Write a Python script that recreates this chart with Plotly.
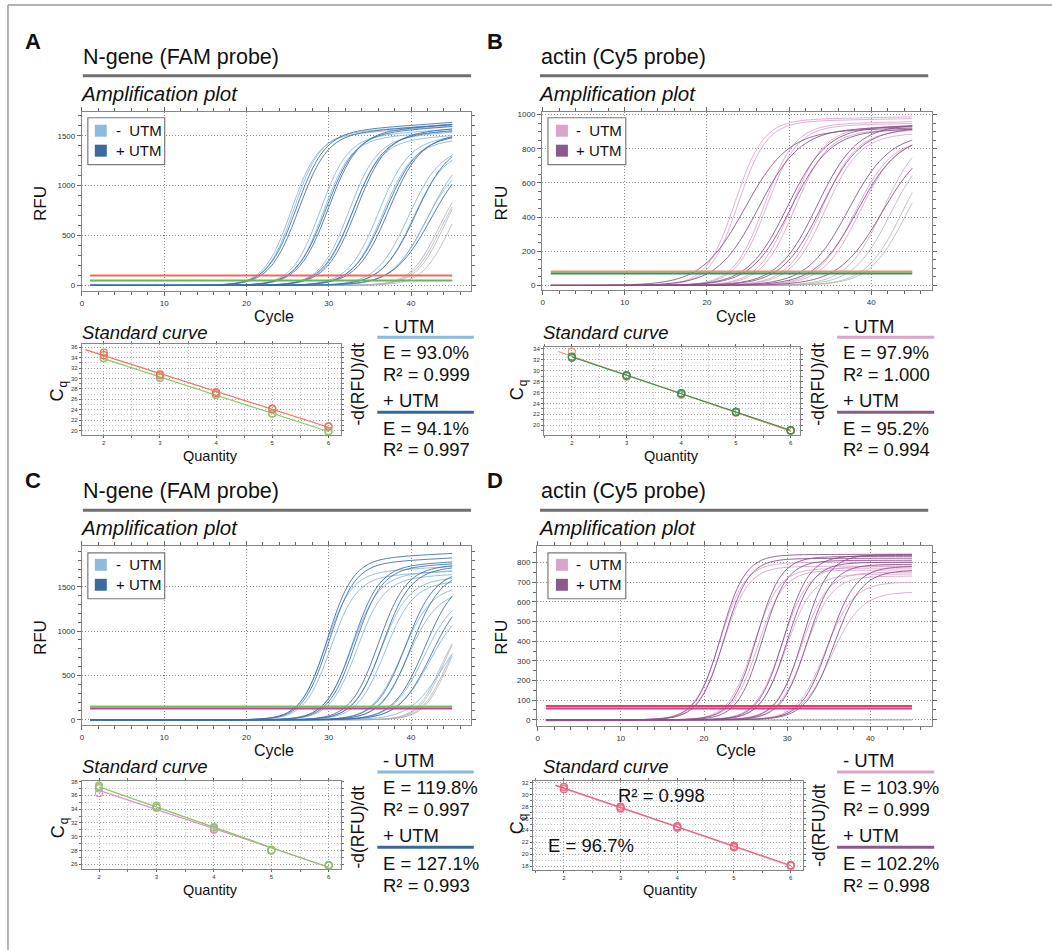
import numpy as np
import plotly.graph_objects as go

W, H = 1052, 950
FONT = "Liberation Sans, Arial, sans-serif"


def fx(x):
    return x / W


def fy(y):
    return 1 - y / H


cycles = list(range(1, 46))

# ---------------- Amplification curve parameters ----------------
# Panel A  (N-gene, FAM)
A_light_mid = [25.4, 25.7, 28.9, 29.3, 32.4, 32.8, 36.0, 36.5, 39.6, 40.2, 41.6, 42.0]
A_light_plat = [1480, 1500, 1470, 1450, 1460, 1430, 1440, 1410, 1350, 1330, 1230, 1350]
A_light_slope = [0.62, 0.62, 0.60, 0.60, 0.58, 0.58, 0.55, 0.55, 0.52, 0.52, 0.50, 0.48]
A_dark_mid = [26.0, 26.3, 29.6, 29.9, 32.9, 33.3, 36.8, 37.2, 40.5, 42.3]
A_dark_plat = [1520, 1500, 1500, 1520, 1480, 1500, 1450, 1470, 1400, 1300]
A_dark_slope = [0.58, 0.58, 0.56, 0.56, 0.55, 0.55, 0.52, 0.52, 0.50, 0.45]
A_gray_mid = [43.2, 43.5, 43.9, 44.6]
A_gray_plat = [1100, 1100, 1150, 1100]
A_gray_slope = [0.6, 0.6, 0.6, 0.6]
A_drift = 6
A_thresholds = [100, 50]

# Panel B  (actin, Cy5)
B_light_mid = [23.4, 23.8, 27.0, 27.3, 30.3, 30.7, 34.0, 34.4, 38.0, 38.6]
B_light_plat = [965, 955, 940, 930, 920, 900, 900, 880, 850, 860]
B_light_slope = [0.58, 0.58, 0.54, 0.54, 0.50, 0.50, 0.48, 0.48, 0.45, 0.45]
B_dark_mid = [24.6, 26.3, 29.8, 30.2, 33.4, 33.9, 37.2, 38.3, 41.3]
B_dark_plat = [900, 910, 920, 900, 930, 910, 880, 870, 850]
B_dark_slope = [0.38, 0.40, 0.42, 0.42, 0.42, 0.42, 0.40, 0.40, 0.38]
B_gray_mid = [41.5, 42.3, 43.8, 44.2]
B_gray_plat = [900, 830, 860, 820]
B_gray_slope = [0.45, 0.45, 0.45, 0.45]
B_drift = 1
B_thresholds = [82, 70]

# Panel C  (N-gene, FAM)
C_light_mid = [29.6, 30.2, 32.8, 33.4, 36.3, 36.8, 38.9, 39.6, 41.5, 42.2, 43.8]
C_light_plat = [1650, 1600, 1620, 1580, 1560, 1520, 1480, 1420, 1400, 1300, 1150]
C_light_slope = [0.64, 0.64, 0.62, 0.62, 0.60, 0.60, 0.57, 0.57, 0.54, 0.52, 0.50]
C_dark_mid = [29.8, 30.0, 32.9, 33.2, 36.0, 36.5, 39.3, 40.0, 41.6, 42.4]
C_dark_plat = [1800, 1750, 1720, 1700, 1700, 1680, 1650, 1640, 1600, 1450]
C_dark_slope = [0.64, 0.64, 0.62, 0.62, 0.60, 0.60, 0.57, 0.57, 0.54, 0.52]
C_gray_mid = [43.5, 43.8, 44.0, 44.3]
C_gray_plat = [1150, 1200, 1100, 1150]
C_gray_slope = [0.7, 0.7, 0.7, 0.7]
C_drift = 5
C_thresholds = [150, 128]

# Panel D  (actin, Cy5)
D_light_mid = [21.9, 22.3, 26.0, 26.5, 29.4, 29.9, 31.7, 32.2, 34.6, 35.3]
D_light_plat = [800, 780, 770, 760, 780, 740, 750, 730, 700, 650]
D_light_slope = [0.66, 0.66, 0.66, 0.66, 0.64, 0.64, 0.64, 0.64, 0.60, 0.56]
D_dark_mid = [22.0, 22.4, 26.3, 27.0, 29.6, 30.0, 31.9, 32.4, 35.0, 35.6]
D_dark_plat = [840, 820, 830, 810, 835, 800, 840, 790, 780, 760]
D_dark_slope = [0.68, 0.68, 0.68, 0.68, 0.66, 0.66, 0.66, 0.66, 0.62, 0.60]
D_gray_mid = [-5, -5]
D_gray_plat = [-3, -7]
D_gray_slope = [1.0, 1.0]
D_drift = 0.1
D_thresholds = [70, 58]

# ---------------- Standard curve data (log quantity vs Cq) ----------------
quantity = [2, 2, 3, 3, 4, 4, 5, 5, 6, 6]
A_std_s1 = [35.0, 34.5, 30.8, 30.6, 27.4, 27.2, 24.2, 24.1, 20.8, 20.7]
A_std_s2 = [34.0, 33.9, 30.2, 30.1, 26.8, 26.9, 23.2, 23.3, 19.8, 19.9]
B_std_s1 = [33.5, 32.4, 29.0, 28.9, 25.6, 25.7, 22.3, 22.4, 19.0, 19.1]
B_std_s2 = [32.4, 32.6, 29.2, 29.1, 25.8, 25.9, 22.5, 22.4, 19.1, 19.0]
C_std_s1 = [37.4, 37.2, 34.5, 34.2, 31.4, 31.3, 28.1, 28.0, 25.9, 25.8]
C_std_s2 = [36.3, 37.0, 34.3, 34.2, 31.1, 31.0, 28.0, 28.1, 25.9, 25.8]
D_std_s1 = [31.3, 30.9, 28.0, 27.7, 24.7, 24.5, 21.4, 21.2, 18.2, 18.1]
D_std_s2 = [31.0, 31.2, 27.8, 27.6, 24.6, 24.4, 21.3, 21.1, 18.2, 18.0]

# Efficiency texts
A_stats = ["E = 93.0%", "R² = 0.999", "E = 94.1%", "R² = 0.997"]
B_stats = ["E = 97.9%", "R² = 1.000", "E = 95.2%", "R² = 0.994"]
C_stats = ["E = 119.8%", "R² = 0.997", "E = 127.1%", "R² = 0.993"]
D_stats = ["E = 103.9%", "R² = 0.999", "E = 102.2%", "R² = 0.998"]
D_inner = ["R² = 0.998", "E = 96.7%"]


def amp_curve(mid, plat, slope, drift):
    x = np.array(cycles, float)
    s = 1.0 / (1.0 + np.exp(-slope * (x - mid)))
    return (s * (plat + drift * np.clip(x - mid, 0, None))).tolist()


def group_xy(mids, plats, slopes, drift):
    xs, ys = [], []
    for m, p, k in zip(mids, plats, slopes):
        xs += cycles + [None]
        ys += amp_curve(m, p, k, drift) + [None]
    return xs, ys


BLUE_L = "rgba(130,182,228,0.85)"
BLUE_D = "rgba(60,108,165,0.85)"
PINK_L = "rgba(218,162,204,0.85)"
PURP_D = "rgba(135,80,135,0.85)"
GRAY = "rgba(170,170,170,0.7)"

amp_panels = [
    dict(n=1, xd=(80, 470), yd=(110, 290), xr=(0, 47.3), yr=(-60, 1740), ydt=500, ymn=100,
         groups=[(A_gray_mid, A_gray_plat, A_gray_slope, GRAY),
                 (A_light_mid, A_light_plat, A_light_slope, BLUE_L),
                 (A_dark_mid, A_dark_plat, A_dark_slope, BLUE_D)],
         drift=A_drift, thr=A_thresholds, thr_col=["#f26a55", "#62b85a"]),
    dict(n=2, xd=(541, 931.7), yd=(110, 289), xr=(-0.08, 47.4), yr=(-29, 1016), ydt=200, ymn=50,
         groups=[(B_gray_mid, B_gray_plat, B_gray_slope, GRAY),
                 (B_light_mid, B_light_plat, B_light_slope, PINK_L),
                 (B_dark_mid, B_dark_plat, B_dark_slope, PURP_D)],
         drift=B_drift, thr=B_thresholds, thr_col=["#f08a70", "#2e9a55"]),
    dict(n=3, xd=(80, 470), yd=(545, 725), xr=(0, 47.3), yr=(-64, 1961), ydt=500, ymn=100,
         groups=[(C_gray_mid, C_gray_plat, C_gray_slope, GRAY),
                 (C_light_mid, C_light_plat, C_light_slope, BLUE_L),
                 (C_dark_mid, C_dark_plat, C_dark_slope, BLUE_D)],
         drift=C_drift, thr=C_thresholds, thr_col=["#74c455", "#c63fa5"]),
    dict(n=4, xd=(536, 931.7), yd=(545, 726), xr=(-0.08, 47.4), yr=(-34, 885), ydt=100, ymn=50,
         groups=[(D_gray_mid, D_gray_plat, D_gray_slope, GRAY),
                 (D_light_mid, D_light_plat, D_light_slope, PINK_L),
                 (D_dark_mid, D_dark_plat, D_dark_slope, PURP_D)],
         drift=D_drift, thr=D_thresholds, thr_col=["#f23a55", "#c43fa5"]),
]

std_panels = [
    dict(n=5, xd=(80, 340), yd=(343, 434), xr=(1.61, 6.23), yr=(19.1, 36.6),
         series=[(A_std_s2, "#8cc86a", 1.94), (A_std_s1, "#f2725f", 1.67)]),
    dict(n=6, xd=(543, 800), yd=(346, 434), xr=(1.49, 6.18), yr=(18.2, 34.3),
         series=[(B_std_s1, "#f29272", 1.75), (B_std_s2, "#3b9252", 2.0)]),
    dict(n=7, xd=(80, 340), yd=(780.7, 869), xr=(1.70, 6.22), yr=(25.3, 38.07),
         series=[(C_std_s2, "#e58ccd", 2.0), (C_std_s1, "#8cc86a", 2.0)]),
    dict(n=8, xd=(531.7, 802.7), yd=(780.7, 870), xr=(1.45, 6.22), yr=(17.33, 32.27),
         series=[(D_std_s2, "#f4a4bb", 1.85), (D_std_s1, "#f0607a", 1.85)]),
]

fig = go.Figure()
layout = {}


def axis_names(n):
    return ("xaxis" if n == 1 else f"xaxis{n}"), ("yaxis" if n == 1 else f"yaxis{n}"), \
           ("x" if n == 1 else f"x{n}"), ("y" if n == 1 else f"y{n}")


common = dict(showline=True, linecolor="#858585", linewidth=1, mirror="allticks",
              ticks="outside", tickcolor="#666", zeroline=False, showgrid=True,
              gridcolor="#8a8a8a", griddash="1px,2px", gridwidth=1)

for p in amp_panels:
    xa, ya, xr, yr = axis_names(p["n"])
    for mids, plats, slopes, col in p["groups"]:
        xs, ys = group_xy(mids, plats, slopes, p["drift"])
        fig.add_trace(go.Scatter(x=xs, y=ys, mode="lines", line=dict(color=col, width=1, shape="spline"),
                                 xaxis=xr, yaxis=yr, showlegend=False, hoverinfo="skip"))
    for t, c in zip(p["thr"], p["thr_col"]):
        fig.add_trace(go.Scatter(x=[cycles[0], cycles[-1]], y=[t, t], mode="lines",
                                 line=dict(color=c, width=2), xaxis=xr, yaxis=yr,
                                 showlegend=False, hoverinfo="skip"))
    layout[xa] = dict(common, domain=[fx(p["xd"][0]), fx(p["xd"][1])], range=list(p["xr"]),
                      anchor=yr, tick0=0, dtick=10, ticklen=4,
                      tickfont=dict(size=8, color="#333", family=FONT),
                      minor=dict(dtick=2, ticklen=3, tickcolor="#666", showgrid=False))
    layout[ya] = dict(common, domain=[fy(p["yd"][1]), fy(p["yd"][0])], range=list(p["yr"]),
                      anchor=xr, tick0=0, dtick=p["ydt"], ticklen=4,
                      tickfont=dict(size=8, color="#333", family=FONT),
                      minor=dict(dtick=p["ymn"], ticklen=3, tickcolor="#666", showgrid=False))

for p in std_panels:
    xa, ya, xr, yr = axis_names(p["n"])
    for cq, col, x0 in p["series"]:
        coef = np.polyfit(quantity, cq, 1)
        lx = [x0, max(quantity)]
        fig.add_trace(go.Scatter(x=lx, y=np.polyval(coef, lx).tolist(), mode="lines",
                                 line=dict(color=col, width=1.2), xaxis=xr, yaxis=yr,
                                 showlegend=False, hoverinfo="skip"))
        fig.add_trace(go.Scatter(x=quantity, y=cq, mode="markers",
                                 marker=dict(symbol="circle-open", size=7, color=col, line=dict(width=1.2)),
                                 xaxis=xr, yaxis=yr, showlegend=False, hoverinfo="skip"))
    layout[xa] = dict(common, domain=[fx(p["xd"][0]), fx(p["xd"][1])], range=list(p["xr"]),
                      anchor=yr, dtick=1, ticklen=2, gridcolor="#a0a0a0",
                      tickfont=dict(size=6, color="#333", family=FONT),
                      minor=dict(dtick=0.5, ticklen=2, tickcolor="#777", showgrid=True,
                                 gridcolor="#c8c8c8", griddash="1px,2px"))
    layout[ya] = dict(common, domain=[fy(p["yd"][1]), fy(p["yd"][0])], range=list(p["yr"]),
                      anchor=xr, dtick=2, ticklen=2, gridcolor="#a0a0a0",
                      tickfont=dict(size=6, color="#333", family=FONT),
                      minor=dict(dtick=1, ticklen=2, tickcolor="#777", showgrid=True,
                                 gridcolor="#c8c8c8", griddash="1px,2px"))

annotations = []
shapes = []


def txt(x, y, s, size, xanchor="left", angle=0, color="#111", weight="normal", style="normal"):
    annotations.append(dict(x=fx(x), y=fy(y), xref="paper", yref="paper", text=s, showarrow=False,
                            xanchor=xanchor, yanchor="middle", textangle=angle, borderpad=0,
                            font=dict(family=FONT, size=size, color=color, weight=weight, style=style)))


def hline(x0, x1, y, color, width):
    shapes.append(dict(type="line", xref="paper", yref="paper", x0=fx(x0), x1=fx(x1),
                       y0=fy(y), y1=fy(y), line=dict(color=color, width=width)))


def rect(x0, y0, x1, y1, line_color, fill, lw=1):
    shapes.append(dict(type="rect", xref="paper", yref="paper", x0=fx(x0), x1=fx(x1),
                       y0=fy(y1), y1=fy(y0), line=dict(color=line_color, width=lw), fillcolor=fill))


# frame of whole figure
shapes.append(dict(type="line", xref="paper", yref="paper", x0=fx(6), x1=fx(6), y0=fy(3), y1=0,
                   line=dict(color="#9a9a9a", width=1.5)))
shapes.append(dict(type="line", xref="paper", yref="paper", x0=fx(6), x1=1, y0=fy(3), y1=fy(3),
                   line=dict(color="#9a9a9a", width=1.5)))

panel_text = [
    dict(L="A", lx=31, ly=40, title="N-gene (FAM probe)", tx=80, ty=55, rule=(81, 470, 74), ay=92,
         rfu=(38.5, 202), cyc=(273, 315), sc=(79, 331), c=(55.5, 394), q=(61.5, 383), qty=(209, 455),
         drdt=(357, 383), bx=380.7, lines=(376, 472.7), ys=(325, 336, 351, 373.5, 399, 411, 427, 448.5),
         cols=("#8cbadf", "#3a689a"), stats=A_stats,
         leg=(86, 116, 163, 163), sw=(93, 105), swy=(129, 149), ltx=113, lcol=("#8dbbe0", "#3b6a9c")),
    dict(L="B", lx=494, ly=40, title="actin (Cy5 probe)", tx=539, ty=55, rule=(539, 928, 74), ay=92,
         rfu=(501, 202), cyc=(735, 315), sc=(541, 331), c=(516, 393), q=(522, 382), qty=(671, 455),
         drdt=(818, 383), bx=841.7, lines=(836.7, 934), ys=(325, 336, 351, 373.5, 399, 411, 427, 448.5),
         cols=("#d8a6c8", "#8a5a8c"), stats=B_stats,
         leg=(547, 116, 625, 163), sw=(555, 567), swy=(129, 149), ltx=574, lcol=("#d6a5c8", "#8b5a8c")),
    dict(L="C", lx=31, ly=480, title="N-gene (FAM probe)", tx=80, ty=490, rule=(81, 470, 509.3), ay=527,
         rfu=(38.5, 637), cyc=(273, 750), sc=(79, 766), c=(55.5, 831.5), q=(61.5, 820.5), qty=(209, 890),
         drdt=(357, 827), bx=380.7, lines=(376, 472.7), ys=(760, 771.7, 787, 809.5, 835, 847, 863, 885),
         cols=("#8cbadf", "#3a689a"), stats=C_stats,
         leg=(86, 552, 163, 598), sw=(93, 105), swy=(564, 584), ltx=113, lcol=("#8dbbe0", "#3b6a9c")),
    dict(L="D", lx=494, ly=480, title="actin (Cy5 probe)", tx=539, ty=490, rule=(539, 928, 509.3), ay=527,
         rfu=(501, 637), cyc=(735, 750), sc=(541, 766), c=(516, 828), q=(522, 817), qty=(670, 890),
         drdt=(819, 825), bx=841.7, lines=(836.7, 934), ys=(760, 771.7, 787, 809.5, 835, 847, 863, 885),
         cols=("#d8a6c8", "#8a5a8c"), stats=D_stats,
         leg=(547, 552, 625, 598), sw=(555, 567), swy=(564, 584), ltx=574, lcol=("#d6a5c8", "#8b5a8c")),
]

for t in panel_text:
    txt(t["lx"], t["ly"], t["L"], 22, xanchor="center", weight="bold")
    txt(t["tx"], t["ty"], t["title"], 21.5)
    hline(t["rule"][0], t["rule"][1], t["rule"][2], "#6e6e6e", 3)
    txt(t["tx"] - 3, t["ay"], "Amplification plot", 20.5, style="italic")
    txt(t["rfu"][0], t["rfu"][1], "RFU", 17, xanchor="center", angle=-90)
    txt(t["cyc"][0], t["cyc"][1], "Cycle", 16, xanchor="center")
    txt(t["sc"][0], t["sc"][1], "Standard curve", 18.5, style="italic")
    txt(t["c"][0], t["c"][1], "C", 18, xanchor="center", angle=-90)
    txt(t["q"][0], t["q"][1], "q", 12, xanchor="center", angle=-90)
    txt(t["qty"][0], t["qty"][1], "Quantity", 14.5, xanchor="center")
    txt(t["drdt"][0], t["drdt"][1], "-d(RFU)/dt", 17.5, xanchor="center", angle=-90)
    ys = t["ys"]
    txt(t["bx"], ys[0], "- UTM", 18.5)
    hline(t["lines"][0], t["lines"][1], ys[1], t["cols"][0], 3)
    txt(t["bx"], ys[2], t["stats"][0], 18.5)
    txt(t["bx"], ys[3], t["stats"][1], 18.5)
    txt(t["bx"], ys[4], "+ UTM", 18.5)
    hline(t["lines"][0], t["lines"][1], ys[5], t["cols"][1], 3)
    txt(t["bx"], ys[6], t["stats"][2], 18.5)
    txt(t["bx"], ys[7], t["stats"][3], 18.5)
    # legend box
    lx0, ly0, lx1, ly1 = t["leg"]
    rect(lx0, ly0, lx1, ly1, "#7a7a7a", "white", 1.2)
    for yy, c, lab in zip(t["swy"], t["lcol"], ["-  UTM", "+ UTM"]):
        rect(t["sw"][0], yy - 6, t["sw"][1], yy + 6, c, c, 0)
        txt(t["ltx"], yy, lab, 15)

# inner annotation of panel D standard curve
txt(616, 795, D_inner[0], 18.5)
txt(546, 845, D_inner[1], 18.5)

layout.update(dict(width=W, height=H, margin=dict(l=0, r=0, t=0, b=0), autosize=False,
                   paper_bgcolor="white", plot_bgcolor="white", showlegend=False,
                   font=dict(family=FONT, color="#111"),
                   annotations=annotations, shapes=shapes))
fig.update_layout(**layout)
fig.write_html("out.html", config={"displayModeBar": False},
               post_script="document.body.style.margin='0px';")
